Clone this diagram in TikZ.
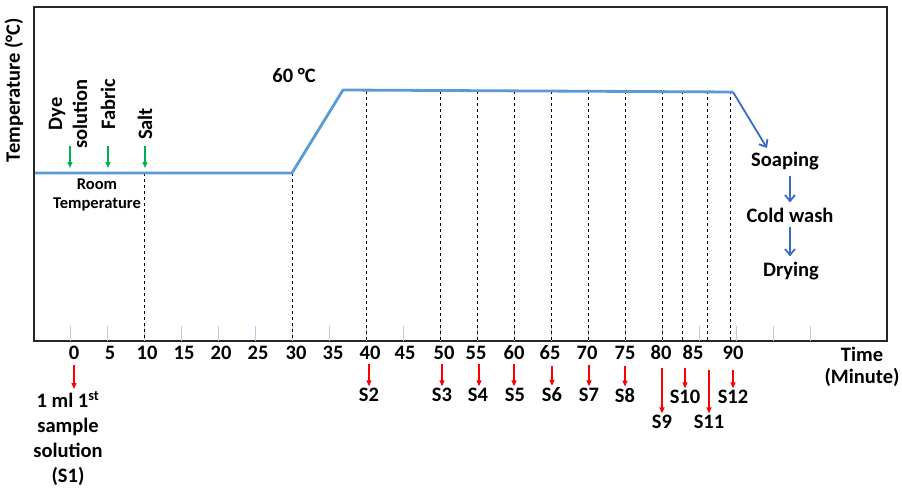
\documentclass[tikz,border=0pt]{standalone}
\usepackage{fontspec}
\setmainfont{Carlito}
\usetikzlibrary{arrows.meta,positioning}
\definecolor{curveblue}{HTML}{5B9BD5}
\definecolor{flowblue}{HTML}{3A6BC4}
\definecolor{tickblue}{HTML}{B4CDEA}
\definecolor{addgreen}{HTML}{00B050}

\begin{document}
\begin{tikzpicture}[x=1pt, y=-1pt,
  lbl/.style={font=\bfseries\fontsize{20.5}{25}\selectfont, inner sep=1pt, align=center},
  note/.style={font=\bfseries\fontsize{16.5}{19}\selectfont, inner sep=1pt, align=center},
  vline/.style={dashed, dash pattern=on 3pt off 3pt, line width=0.9pt},
  tickmark/.style={draw=tickblue, line width=1pt},
  samp/.style={-{Triangle[length=6pt,width=5pt]}, red, line width=1.3pt},
  addn/.style={-{Triangle[length=6pt,width=5pt]}, addgreen, line width=1.3pt},
  flow/.style={-{Straight Barb[length=6pt,width=10pt]}, flowblue, line width=1.8pt}
]
  \useasboundingbox (0,0) rectangle (902,492);
  \fill[white] (0,0) rectangle (902,492);

  % plot frame and ticks
  \draw[black!85, line width=1.4pt] (34,7) rectangle (887,341);
  \foreach \t in {0,5,...,100}
    \draw[tickmark] ({70+7.4*\t},326) -- ({70+7.4*\t},341);

  % sampling lines
  \draw[vline] (144,173) -- (144,341);
  \draw[vline] (292,173) -- (292,341);
  \foreach \x in {366,440,477,514,551,588,625,662,682,707,730}
    \draw[vline] (\x,91) -- (\x,341);

  % temperature profile
  \draw[curveblue, line width=2.8pt, line join=round]
    (35,173) -- (292,173) -- (343,90) -- (733,92);

  \node[lbl, rotate=90] (ylab) at (14,90) {Temperature (°C)};
  \node[lbl] (peak) at (294,75) {60 °C};
  \node[note] (room) at (97,195) {Room\\Temperature};

  % additions
  \node[lbl, rotate=90] (dye) at (68,114) {Dye\\solution};
  \node[lbl, rotate=90] (fabric) at (108,104) {Fabric};
  \node[lbl, rotate=90] (salt) at (145,124) {Salt};
  \coordinate (dyein) at (70,168);
  \coordinate (fabin) at (108,168);
  \coordinate (saltin) at (145,168);
  \draw[addn] (dyein |- 0,146) -- (dyein);
  \draw[addn] (fabin |- 0,146) -- (fabin);
  \draw[addn] (saltin |- 0,146) -- (saltin);

  % after dyeing
  \node[lbl, anchor=base, inner sep=6pt] (soap) at (785,166) {Soaping};
  \node[lbl, anchor=base, inner sep=5pt] (cold) at (790,222) {Cold wash};
  \node[lbl, anchor=base, inner sep=5pt] (dry) at (791,276) {Drying};
  \coordinate (fall) at (767,148);
  \draw[flow] (733,92) -- (fall);
  \draw[flow] (cold.north |- soap.south) -- (cold.north);
  \draw[flow] (cold.south) -- (cold.south |- dry.north);

  % time axis
  \foreach \t/\x in {0/74,5/110,10/147,15/184,20/221,25/258,30/296,35/333,40/370,
      45/405,50/444,55/476,60/514,65/550,70/587,75/625,80/661,85/693,90/733}
    \node[lbl, anchor=base] (t\t) at (\x,359) {\t};
  \node[lbl, anchor=north, font=\bfseries\fontsize{20.5}{22}\selectfont] (time)
    at (862,346) {Time\\(Minute)};

  % samples
  \node[lbl, anchor=north, inner sep=2pt] (s1) at (68,389)
    {1 ml 1\textsuperscript{st}\\sample\\solution\\(S1)};
  \node[lbl, anchor=base] (s2) at (369,401) {S2};
  \node[lbl, anchor=base] (s3) at (442,401) {S3};
  \node[lbl, anchor=base] (s4) at (478,401) {S4};
  \node[lbl, anchor=base] (s5) at (515,401) {S5};
  \node[lbl, anchor=base] (s6) at (552,401) {S6};
  \node[lbl, anchor=base] (s7) at (589,401) {S7};
  \node[lbl, anchor=base] (s8) at (625,402) {S8};
  \node[lbl, anchor=base] (s9) at (662,428) {S9};
  \node[lbl, anchor=base] (s10) at (685,403) {S10};
  \node[lbl, anchor=base] (s11) at (709,428) {S11};
  \node[lbl, anchor=base] (s12) at (733,403) {S12};

  \coordinate (p1) at (74,365);
  \coordinate (p2) at (369,364);
  \coordinate (p3) at (442,364);
  \coordinate (p4) at (479,364);
  \coordinate (p5) at (514,364);
  \coordinate (p6) at (552,366);
  \coordinate (p7) at (589,365);
  \coordinate (p8) at (625,366);
  \coordinate (p9) at (662,368);
  \coordinate (p10) at (685,368);
  \coordinate (p11) at (709,370);
  \coordinate (p12) at (733,370);
  \draw[samp] (p1) -- (p1 |- s1.north);
  \draw[samp] (p2) -- (p2 |- s2.north);
  \draw[samp] (p3) -- (p3 |- s3.north);
  \draw[samp] (p4) -- (p4 |- s4.north);
  \draw[samp] (p5) -- (p5 |- s5.north);
  \draw[samp] (p6) -- (p6 |- s6.north);
  \draw[samp] (p7) -- (p7 |- s7.north);
  \draw[samp] (p8) -- (p8 |- s8.north);
  \draw[samp] (p9) -- (p9 |- s9.north);
  \draw[samp] (p10) -- (p10 |- s10.north);
  \draw[samp] (p11) -- (p11 |- s11.north);
  \draw[samp] (p12) -- (p12 |- s12.north);
\end{tikzpicture}
\end{document}
